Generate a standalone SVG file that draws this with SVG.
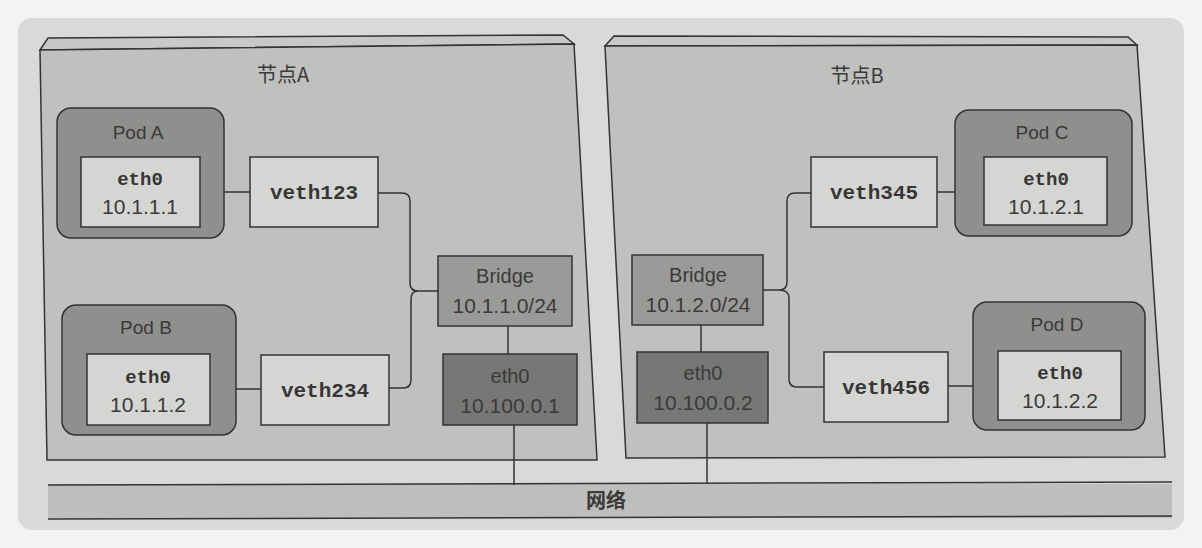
<svg xmlns="http://www.w3.org/2000/svg" width="1202" height="548" viewBox="0 0 1202 548">
<defs>
<style>
.sans{font-family:"Liberation Sans","Noto Sans CJK SC",Arial,sans-serif;fill:#3a3a3a;text-anchor:middle}
.cjk{font-family:"Noto Sans CJK SC","Liberation Sans",sans-serif;fill:#3a3a3a;text-anchor:middle;font-size:20px}
.mono{font-family:"Liberation Mono","Courier New",monospace;font-weight:bold;fill:#363636;text-anchor:middle}
.host{fill:#c0c0be;stroke:#333;stroke-width:1.5}
.strip{fill:#c8c8c6;stroke:#333;stroke-width:1.5}
.pod{fill:#8f8f8d;stroke:#333;stroke-width:1.5}
.light{fill:#d5d5d3;stroke:#333;stroke-width:1.5}
.bridge{fill:#9a9a98;stroke:#333;stroke-width:1.5}
.nic{fill:#777775;stroke:#333;stroke-width:1.5}
.wire{fill:none;stroke:#333;stroke-width:1.5}
</style>
</defs>
<rect x="0" y="0" width="1202" height="548" fill="#f3f3f3"/>
<rect x="18" y="18" width="1166" height="512" rx="14" fill="#d9d9d7"/>

<g id="network">
<rect x="48" y="484" width="1124" height="34" fill="#bebebc"/>
<line class="wire" x1="48" y1="485" x2="1172" y2="482"/>
<line class="wire" x1="48" y1="519" x2="1172" y2="516"/>
<text class="cjk" x="606" y="508" font-size="20" font-weight="bold">网络</text>
</g>

<g id="nodeA">
<polygon class="strip" points="40,50 48,38 563,35 574,44"/>
<polygon class="host" points="40,50 574,44 597,460 47,460"/>
<text class="cjk" x="283" y="82">节点A</text>
</g>

<g id="nodeB">
<polygon class="strip" points="605,46 614,36 1128,37 1137,45"/>
<polygon class="host" points="605,46 1137,45 1165,457 626,458"/>
<text class="cjk" x="857" y="83">节点B</text>
</g>

<g id="connectors">
<line class="wire" x1="200" y1="192" x2="250" y2="192"/>
<path class="wire" d="M378,193 H402 Q410,193 410,201 V283 Q410,291 418,291 H438 M418,291 Q411,291 411,299 V380 Q411,388 403,388 H389"/>
<line class="wire" x1="210" y1="389" x2="261" y2="389"/>
<line class="wire" x1="508" y1="326" x2="508" y2="354"/>
<line class="wire" x1="514" y1="425" x2="514" y2="485"/>
<line class="wire" x1="937" y1="192" x2="984" y2="192"/>
<path class="wire" d="M811,193 H795 Q787,193 787,201 V282 Q787,290 779,290 H763 M779,290 Q789,290 789,298 V379 Q789,387 797,387 H824"/>
<line class="wire" x1="948" y1="386" x2="998" y2="386"/>
<line class="wire" x1="701" y1="325" x2="701" y2="352"/>
<line class="wire" x1="707" y1="423" x2="707" y2="483"/>
</g>

<g id="podA">
<rect class="pod" x="57" y="108" width="167" height="130" rx="14"/>
<text class="sans" x="138" y="139" font-size="19">Pod A</text>
</g>
<g id="podA-eth0">
<rect class="light" x="81" y="157" width="119" height="70"/>
<text class="mono" x="140" y="185" font-size="19">eth0</text>
<text class="sans" x="140" y="214" font-size="21">10.1.1.1</text>
</g>
<g id="veth123">
<rect class="light" x="250" y="157" width="128" height="70"/>
<text class="mono" x="314" y="199" font-size="21">veth123</text>
</g>

<g id="podB">
<rect class="pod" x="62" y="305" width="174" height="130" rx="14"/>
<text class="sans" x="146" y="334" font-size="19">Pod B</text>
</g>
<g id="podB-eth0">
<rect class="light" x="87" y="354" width="123" height="71"/>
<text class="mono" x="148" y="383" font-size="19">eth0</text>
<text class="sans" x="148" y="412" font-size="21">10.1.1.2</text>
</g>
<g id="veth234">
<rect class="light" x="261" y="355" width="128" height="70"/>
<text class="mono" x="325" y="397" font-size="21">veth234</text>
</g>

<g id="bridgeA">
<rect class="bridge" x="438" y="256" width="134" height="70"/>
<text class="sans" x="505" y="283" font-size="20">Bridge</text>
<text class="sans" x="505" y="313" font-size="21">10.1.1.0/24</text>
</g>
<g id="hostA-eth0">
<rect class="nic" x="443" y="354" width="134" height="71"/>
<text class="sans" x="510" y="383" font-size="20">eth0</text>
<text class="sans" x="510" y="413" font-size="21">10.100.0.1</text>
</g>

<g id="podC">
<rect class="pod" x="955" y="110" width="177" height="126" rx="14"/>
<text class="sans" x="1042" y="139" font-size="19">Pod C</text>
</g>
<g id="podC-eth0">
<rect class="light" x="984" y="157" width="123" height="68"/>
<text class="mono" x="1046" y="185" font-size="19">eth0</text>
<text class="sans" x="1046" y="214" font-size="21">10.1.2.1</text>
</g>
<g id="veth345">
<rect class="light" x="811" y="157" width="126" height="70"/>
<text class="mono" x="874" y="199" font-size="21">veth345</text>
</g>

<g id="podD">
<rect class="pod" x="973" y="302" width="172" height="128" rx="14"/>
<text class="sans" x="1057" y="331" font-size="19">Pod D</text>
</g>
<g id="podD-eth0">
<rect class="light" x="998" y="351" width="123" height="69"/>
<text class="mono" x="1060" y="379" font-size="19">eth0</text>
<text class="sans" x="1060" y="408" font-size="21">10.1.2.2</text>
</g>
<g id="veth456">
<rect class="light" x="824" y="352" width="124" height="70"/>
<text class="mono" x="886" y="394" font-size="21">veth456</text>
</g>

<g id="bridgeB">
<rect class="bridge" x="632" y="255" width="131" height="70"/>
<text class="sans" x="698" y="282" font-size="20">Bridge</text>
<text class="sans" x="698" y="312" font-size="21">10.1.2.0/24</text>
</g>
<g id="hostB-eth0">
<rect class="nic" x="637" y="352" width="131" height="71"/>
<text class="sans" x="703" y="380" font-size="20">eth0</text>
<text class="sans" x="703" y="410" font-size="21">10.100.0.2</text>
</g>
</svg>
